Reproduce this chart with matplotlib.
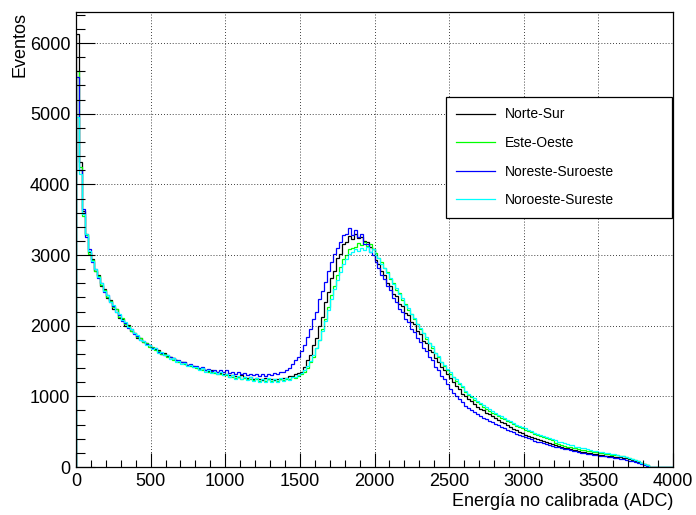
import matplotlib
matplotlib.use("Agg")
import matplotlib.pyplot as plt
from matplotlib.ticker import MultipleLocator
import numpy as np

plt.rcParams['font.family'] = ['Liberation Sans', 'DejaVu Sans']

# bins of 20 ADC from 0 to 4000
bin_edges = np.arange(0, 4001, 20)

norte_sur = [
    6130, 4310, 3620, 3300, 3050, 2950, 2770, 2720, 2560, 2520,
    2390, 2370, 2240, 2230, 2110, 2100, 2000, 2010, 1920, 1900,
    1830, 1820, 1770, 1760, 1720, 1690, 1670, 1650, 1600, 1620,
    1570, 1560, 1540, 1510, 1500, 1490, 1480, 1450, 1450, 1430,
    1420, 1390, 1400, 1380, 1360, 1370, 1340, 1350, 1330, 1310,
    1320, 1300, 1300, 1290, 1270, 1300, 1280, 1260, 1270, 1250,
    1260, 1250, 1230, 1260, 1240, 1250, 1235, 1250, 1240, 1265,
    1260, 1290, 1285, 1320, 1330, 1350, 1420, 1520, 1580, 1720,
    1820, 2000, 2130, 2340, 2470, 2680, 2780, 2960, 3020, 3160,
    3180, 3270, 3230, 3300, 3240, 3260, 3200, 3190, 3120, 3080,
    2930, 2880, 2770, 2720, 2610, 2560, 2450, 2420, 2310, 2280,
    2180, 2150, 2050, 2020, 1920, 1880, 1790, 1750, 1660, 1630,
    1540, 1490, 1410, 1370, 1320, 1260, 1200, 1140, 1100, 1040,
    1000, 960, 930, 890, 855, 825, 800, 770, 745, 715,
    690, 670, 640, 620, 590, 570, 540, 525, 500, 485,
    460, 445, 425, 415, 395, 385, 365, 355, 340, 330,
    305, 300, 285, 275, 262, 255, 242, 236, 225, 218,
    206, 202, 192, 186, 178, 174, 168, 162, 158, 152,
    146, 142, 136, 128, 122, 110, 98, 84, 70, 55,
    40, 22, 5, 0, 0, 0, 0, 0, 0, 0,
]

este_oeste = [
    5600, 4250, 3550, 3280, 3020, 2930, 2780, 2700, 2580, 2500,
    2400, 2350, 2260, 2230, 2120, 2110, 2020, 1990, 1930, 1900,
    1840, 1820, 1770, 1760, 1700, 1700, 1650, 1640, 1600, 1600,
    1560, 1550, 1520, 1510, 1490, 1480, 1460, 1450, 1430, 1420,
    1400, 1390, 1380, 1370, 1350, 1350, 1330, 1320, 1310, 1300,
    1300, 1280, 1280, 1260, 1270, 1250, 1260, 1240, 1250, 1230,
    1240, 1220, 1250, 1220, 1240, 1215, 1240, 1220, 1250, 1230,
    1250, 1240, 1270, 1260, 1290, 1310, 1350, 1400, 1480, 1560,
    1680, 1800, 1960, 2100, 2260, 2430, 2560, 2720, 2830, 2950,
    3000, 3080, 3100, 3120, 3170, 3140, 3180, 3130, 3150, 3080,
    3030, 2960, 2900, 2810, 2760, 2660, 2610, 2510, 2460, 2370,
    2310, 2220, 2170, 2090, 2030, 1950, 1890, 1810, 1760, 1690,
    1620, 1550, 1490, 1430, 1380, 1320, 1270, 1220, 1180, 1130,
    1060, 1020, 985, 950, 915, 885, 855, 825, 795, 770,
    750, 725, 700, 675, 650, 630, 605, 585, 565, 545,
    525, 505, 490, 470, 455, 440, 425, 410, 395, 380,
    335, 325, 312, 300, 290, 280, 270, 262, 254, 245,
    236, 228, 220, 213, 206, 200, 194, 188, 182, 176,
    170, 164, 157, 150, 141, 130, 117, 100, 82, 62,
    44, 24, 6, 0, 0, 0, 0, 0, 0, 0,
]

noreste_suroeste = [
    5520, 4200, 3650, 3250, 3080, 2900, 2800, 2680, 2600, 2480,
    2430, 2330, 2280, 2190, 2150, 2070, 2040, 1970, 1950, 1880,
    1860, 1800, 1790, 1740, 1730, 1690, 1680, 1630, 1620, 1590,
    1580, 1550, 1540, 1510, 1510, 1480, 1480, 1450, 1460, 1430,
    1430, 1400, 1410, 1380, 1390, 1360, 1380, 1350, 1370, 1340,
    1380, 1330, 1350, 1320, 1340, 1310, 1330, 1300, 1320, 1300,
    1320, 1290, 1310, 1290, 1320, 1300, 1330, 1310, 1350, 1340,
    1380, 1400, 1460, 1520, 1560, 1640, 1720, 1840, 1950, 2100,
    2200, 2380, 2490, 2620, 2780, 2900, 3020, 3100, 3180, 3280,
    3300, 3380, 3290, 3360, 3250, 3300, 3160, 3150, 3040, 3000,
    2900, 2820, 2720, 2660, 2560, 2500, 2390, 2340, 2240, 2190,
    2100, 2050, 1950, 1910, 1820, 1770, 1690, 1640, 1560, 1510,
    1420, 1370, 1290, 1240, 1170, 1110, 1050, 1010, 960, 920,
    870, 840, 805, 780, 750, 725, 700, 680, 655, 635,
    610, 590, 570, 550, 530, 510, 490, 470, 455, 440,
    420, 405, 390, 375, 360, 350, 335, 325, 310, 300,
    290, 280, 268, 260, 250, 240, 232, 222, 215, 205,
    198, 190, 182, 176, 168, 162, 155, 150, 142, 136,
    130, 124, 118, 110, 100, 92, 80, 70, 58, 45,
    32, 16, 3, 0, 0, 0, 0, 0, 0, 0,
]

noroeste_sureste = [
    4950, 4150, 3580, 3300, 3060, 2910, 2800, 2690, 2600, 2490,
    2440, 2340, 2290, 2200, 2170, 2080, 2050, 1980, 1960, 1890,
    1870, 1800, 1790, 1730, 1730, 1670, 1680, 1620, 1630, 1580,
    1580, 1530, 1540, 1490, 1500, 1460, 1470, 1430, 1440, 1410,
    1420, 1380, 1400, 1350, 1370, 1330, 1350, 1310, 1340, 1300,
    1320, 1280, 1300, 1250, 1290, 1240, 1280, 1230, 1270, 1220,
    1260, 1210, 1250, 1200, 1260, 1210, 1250, 1210, 1260, 1220,
    1260, 1230, 1280, 1270, 1300, 1330, 1380, 1430, 1500, 1590,
    1680, 1800, 1930, 2060, 2220, 2380, 2520, 2650, 2760, 2880,
    2940, 3020, 3040, 3080, 3060, 3100, 3070, 3120, 3050, 3080,
    3000, 2960, 2880, 2820, 2740, 2680, 2590, 2540, 2450, 2390,
    2300, 2250, 2160, 2110, 2030, 1970, 1890, 1840, 1760, 1710,
    1620, 1570, 1490, 1450, 1390, 1340, 1280, 1240, 1190, 1150,
    1080, 1040, 1005, 970, 940, 905, 875, 845, 820, 790,
    770, 740, 720, 690, 670, 645, 625, 600, 585, 560,
    545, 520, 505, 485, 470, 450, 440, 420, 410, 390,
    380, 360, 352, 335, 328, 310, 305, 290, 285, 270,
    262, 248, 244, 230, 226, 214, 210, 198, 194, 184,
    178, 168, 162, 152, 146, 132, 120, 102, 84, 62,
    42, 22, 6, 0, 0, 0, 0, 0, 0, 0,
]

labels = ['Norte-Sur', 'Este-Oeste', 'Noreste-Suroeste', 'Noroeste-Sureste']
colors = ['#000000', '#00ff00', '#0000ff', '#00ffff']
series = [norte_sur, este_oeste, noreste_suroeste, noroeste_sureste]

fig = plt.figure(figsize=(6.96, 5.15), dpi=100)
ax = fig.add_axes([76/696, 48/515, 597/696, 455/515])

for vals, col, lab in zip(series, colors, labels):
    ax.stairs(vals, bin_edges, baseline=0, color=col, lw=0.9, label=lab)

ax.set_xlim(0, 4000)
ax.set_ylim(0, 6440)

ax.xaxis.set_major_locator(MultipleLocator(500))
ax.xaxis.set_minor_locator(MultipleLocator(100))
ax.yaxis.set_major_locator(MultipleLocator(1000))
ax.yaxis.set_minor_locator(MultipleLocator(200))

ax.tick_params(axis='x', which='major', direction='in', length=10, width=0.8, labelsize=13, pad=4)
ax.tick_params(axis='x', which='minor', direction='in', length=5, width=0.8)
ax.tick_params(axis='y', which='major', direction='in', length=13.5, width=0.8, labelsize=13, pad=4)
ax.tick_params(axis='y', which='minor', direction='in', length=6.5, width=0.8)

ax.grid(True, which='major', color='black', lw=0.6, linestyle=(0, (1, 2.5)))
for s in ax.spines.values():
    s.set_linewidth(0.9)

ax.set_xlabel('Energía no calibrada (ADC)', fontsize=13, loc='right')
ax.xaxis.set_label_coords(1.0, -0.058)
ax.set_ylabel('Eventos', fontsize=13, loc='top')
ax.yaxis.set_label_coords(-0.08, 1.0)

leg = ax.legend(loc='upper left', bbox_to_anchor=(446/696, 304/515, 226/696, 114/515),
                bbox_transform=fig.transFigure, mode='expand', borderaxespad=0,
                fontsize=10, fancybox=False, framealpha=1, edgecolor='black',
                handlelength=2.8, handletextpad=0.7, labelspacing=1.05, borderpad=0.75)
leg.get_frame().set_linewidth(0.9)

plt.savefig('out.png', dpi=100)
